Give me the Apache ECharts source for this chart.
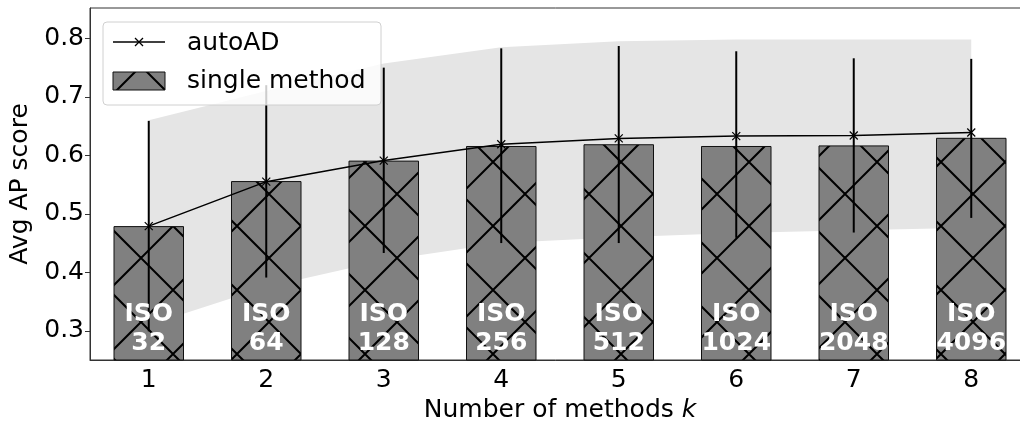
<!DOCTYPE html>
<html><head><meta charset="utf-8">
<script src="https://cdn.jsdelivr.net/npm/echarts@6/dist/echarts.min.js"></script>
<style>html,body{margin:0;padding:0;background:#fff}#c{width:1020px;height:426px}</style>
</head><body><div id="c"></div>
<script>
const categories = ['1','2','3','4','5','6','7','8'];
const isoLabels = ['ISO\n32','ISO\n64','ISO\n128','ISO\n256','ISO\n512','ISO\n1024','ISO\n2048','ISO\n4096'];
const singleMethod = [0.479,0.556,0.591,0.616,0.619,0.616,0.617,0.630];
const autoAD = [0.479,0.555,0.591,0.619,0.629,0.633,0.634,0.639];
const errLow = [0.299,0.391,0.433,0.450,0.450,0.459,0.468,0.493];
const errHigh = [0.659,0.720,0.750,0.783,0.787,0.778,0.766,0.765];
const bandLow = [0.31,0.375,0.42,0.45,0.46,0.467,0.472,0.476];
const bandHigh = [0.66,0.71,0.757,0.785,0.795,0.798,0.798,0.798];
const yTicks = [0.3,0.4,0.5,0.6,0.7,0.8];

const FONT = '"DejaVu Sans", sans-serif';
function makeHatch(){
  const d=64, a=11, b=15;
  const c=document.createElement('canvas'); c.width=d; c.height=d;
  const g=c.getContext('2d');
  g.fillStyle='#808080'; g.fillRect(0,0,d,d);
  g.strokeStyle='#000'; g.lineWidth=2;
  g.beginPath();
  for(let k=-2;k<=2;k++){
    const c1=a+k*d; g.moveTo(c1-10,-10); g.lineTo(c1+d+10,d+10);
    const c2=b+k*d; g.moveTo(c2+10,-10); g.lineTo(c2-d-10,d+10);
  }
  g.stroke();
  return c;
}
const hatch = {image: makeHatch(), repeat: 'repeat'};

const chart = echarts.init(document.getElementById('c'), null, {renderer:'canvas'});
chart.setOption({
  animation:false,
  grid:{left:90, top:8, width:940, height:352, show:true, borderColor:'#333', borderWidth:1,
    containLabel:false, outerBoundsMode:'none'},
  xAxis:{type:'category', data:categories, boundaryGap:true,
    axisLine:{lineStyle:{color:'#333', width:1}},
    axisTick:{alignWithLabel:true, length:5, lineStyle:{color:'#333'}},
    axisLabel:{fontSize:25, color:'#000', fontFamily:FONT, margin:8},
    name:'Number of methods {i|k}', nameLocation:'middle', nameGap:37,
    nameTextStyle:{fontSize:25, color:'#000', fontFamily:FONT,
      rich:{i:{fontSize:25, color:'#000', fontFamily:FONT, fontStyle:'italic'}}}
  },
  yAxis:{type:'value', min:0.25, max:0.852,
    axisLine:{show:true, lineStyle:{color:'#333', width:1}},
    axisTick:{show:true, length:5, customValues:yTicks, lineStyle:{color:'#333'}},
    axisLabel:{fontSize:25, color:'#000', fontFamily:FONT, margin:6, customValues:yTicks,
      formatter:v=>v.toFixed(1)},
    splitLine:{show:false},
    name:'Avg AP score', nameLocation:'middle', nameRotate:90, nameGap:55,
    nameTextStyle:{fontSize:25, color:'#000', fontFamily:FONT}
  },
  series:[
    {type:'custom', z:1, silent:true, data:categories.map((c,i)=>i),
      renderItem:(params, api)=>{
        if(params.dataIndex!==0) return null;
        const pts=[];
        for(let i=0;i<bandHigh.length;i++) pts.push(api.coord([i,bandHigh[i]]));
        for(let i=bandLow.length-1;i>=0;i--) pts.push(api.coord([i,bandLow[i]]));
        return {type:'polygon', shape:{points:pts}, style:{fill:'#e5e5e5', stroke:null}};
      }},
    {type:'bar', z:2, silent:true, data:singleMethod, barWidth:'60%',
      itemStyle:{color:hatch, borderColor:'#111', borderWidth:1}},
    {type:'custom', z:3, silent:true, data:categories.map((c,i)=>[i, errLow[i], errHigh[i]]),
      renderItem:(params, api)=>{
        const i=api.value(0);
        const p1=api.coord([i, api.value(1)]), p2=api.coord([i, api.value(2)]);
        return {type:'line', shape:{x1:p1[0], y1:p1[1], x2:p2[0], y2:p2[1]},
          style:{stroke:'#000', lineWidth:2}};
      }},
    {type:'line', z:4, silent:true, data:autoAD,
      symbol:'path://M0,0L10,10M10,0L0,10', symbolSize:8,
      lineStyle:{color:'#000', width:1.5},
      itemStyle:{color:'#000', borderColor:'#000', borderWidth:1.2}},
    {type:'custom', z:6, silent:true, data:categories.map((c,i)=>i),
      renderItem:(params, api)=>{
        const i=params.dataIndex;
        const x=api.coord([i, singleMethod[i]])[0];
        const yb=params.coordSys.y+params.coordSys.height;
        return {type:'text', style:{text:isoLabels[i], x:x, y:yb-2, align:'center', verticalAlign:'bottom',
          fill:'#fff', fontSize:25, fontWeight:'bold', fontFamily:FONT, lineHeight:29}};
      }}
  ],
  graphic:{elements:[
    {type:'rect', z:100, shape:{x:103, y:22, width:278, height:83, r:4},
      style:{fill:'rgba(255,255,255,0.8)', stroke:'#d0d0d0', lineWidth:1}},
    {type:'line', z:101, shape:{x1:113, y1:42, x2:165, y2:42}, style:{stroke:'#000', lineWidth:1.5}},
    {type:'line', z:101, shape:{x1:135, y1:38, x2:143, y2:46}, style:{stroke:'#000', lineWidth:1.2}},
    {type:'line', z:101, shape:{x1:143, y1:38, x2:135, y2:46}, style:{stroke:'#000', lineWidth:1.2}},
    {type:'text', z:101, style:{text:'autoAD', x:187, y:43, verticalAlign:'middle', fontSize:25, fontFamily:FONT, fill:'#000'}},
    {type:'rect', z:101, shape:{x:113, y:72, width:52, height:18}, style:{fill:hatch, stroke:'#111', lineWidth:1}},
    {type:'text', z:101, style:{text:'single method', x:187, y:81, verticalAlign:'middle', fontSize:25, fontFamily:FONT, fill:'#000'}}
  ]}
});
</script></body></html>
